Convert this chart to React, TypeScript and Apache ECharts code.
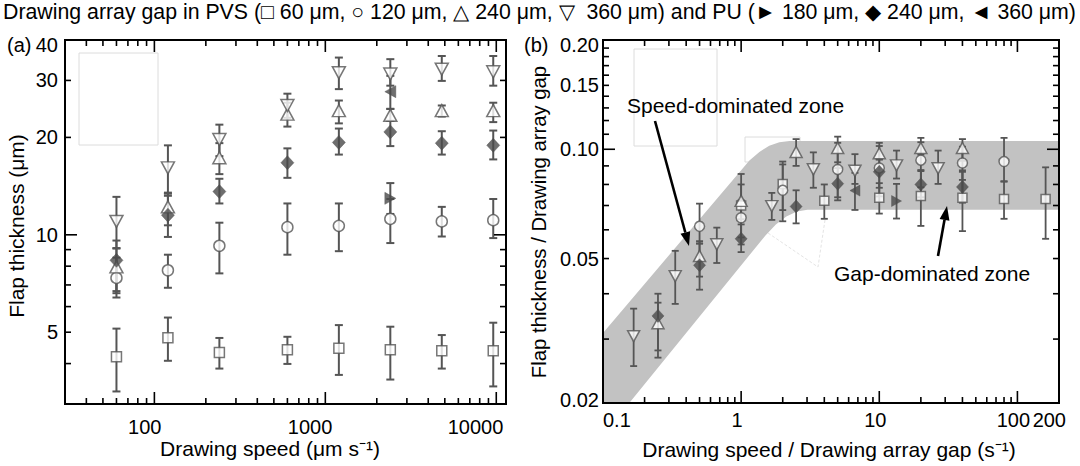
import React, { useEffect, useRef } from 'react';
import * as echarts from 'echarts';

// ---------------- data: panel (a) ----------------
const speeds = [60, 120, 240, 600, 1200, 2400, 4800, 9600];
const puSpeed = [2400];

const gap60 = 60;
const gap120 = 120;
const gap240 = 240;
const gap360 = 360;
const gap180 = 180;

const sq60 = [4.2, 4.81, 4.33, 4.41, 4.46, 4.41, 4.38, 4.38];
const sq60Lo = [3.28, 4.08, 3.86, 3.99, 3.69, 3.57, 3.86, 3.4];
const sq60Hi = [5.13, 5.55, 4.8, 4.84, 5.26, 5.2, 4.9, 5.35];

const ci120 = [7.36, 7.77, 9.25, 10.56, 10.66, 11.2, 11.0, 11.1];
const ci120Lo = [6.6, 6.86, 7.6, 8.68, 8.9, 9.43, 9.88, 9.77];
const ci120Hi = [8.5, 8.68, 10.9, 12.5, 12.5, 12.9, 12.2, 12.9];

const up240 = [7.96, 12.2, 17.3, 23.6, 24.2, 23.4, 24.2, 24.2];
const up240Lo = [6.7, 10.7, 15.4, 21.6, 22.1, 22.5, 23.2, 22.3];
const up240Hi = [9.07, 13.4, 19.2, 25.6, 26.0, 24.5, 25.1, 25.6];

const dn360 = [11.0, 16.1, 19.7, 25.1, 31.7, 31.4, 32.5, 31.9];
const dn360Lo = [9.1, 13.5, 17.5, 23.0, 28.2, 28.9, 29.9, 28.9];
const dn360Hi = [13.1, 18.9, 21.9, 27.3, 35.3, 34.9, 35.7, 35.7];

const pu240 = [8.34, 11.5, 13.6, 16.7, 19.3, 20.8, 19.2, 18.9];
const pu240Lo = [6.4, 9.85, 12.5, 15.0, 17.7, 18.8, 17.7, 17.1];
const pu240Hi = [9.6, 13.2, 14.9, 18.5, 21.3, 22.5, 20.9, 21.0];

const pu180 = [12.96];
const pu180Lo = [11.6];
const pu180Hi = [14.45];

const pu360 = [27.7];
const pu360Lo = [24.5];
const pu360Hi = [31.0];

// ---------------- band (panel b) ----------------
const bandUpperX = [0.1, 1.148, 1.355, 1.597, 1.891, 2.239, 200];
const bandUpperY = [0.0312, 0.0931, 0.0983, 0.1022, 0.1046, 0.1054, 0.1054];
const bandLowerX = [200, 3.022, 2.533, 2.124, 1.784, 1.5, 0.155, 0.1];
const bandLowerY = [0.0681, 0.0681, 0.0674, 0.0653, 0.0621, 0.0579, 0.02, 0.02];

// ---------------- axes / ticks ----------------
const aXRange = [30, 11400];
const aYRange = [3, 40];
const bXRange = [0.1, 200];
const bYRange = [0.02, 0.2];

const aXMajor = [100, 1000, 10000];
const aXMinor = [40, 50, 60, 70, 80, 90, 200, 300, 400, 500, 600, 700, 800, 900, 2000, 3000, 4000, 5000, 6000, 7000, 8000, 9000];
const aYMajor = [10];
const aYMinor = [4, 5, 6, 7, 8, 9, 20, 30];
const aXLabelValues = [100, 1000, 10000];
const aXLabels = ['100', '1000', '10000'];
const aYLabelValues = [5, 10, 20, 30, 40];
const aYLabels = ['5', '10', '20', '30', '40'];

const bXMajor = [1, 10, 100];
const bXMinor = [0.2, 0.3, 0.4, 0.5, 0.6, 0.7, 0.8, 0.9, 2, 3, 4, 5, 6, 7, 8, 9, 20, 30, 40, 50, 60, 70, 80, 90];
const bYMajor = [0.1];
const bYMinor = [0.03, 0.04, 0.05, 0.06, 0.07, 0.08, 0.09, 0.11, 0.12, 0.13, 0.14, 0.15, 0.16, 0.17, 0.18, 0.19];
const bXLabelValues = [0.1, 1, 10, 100, 200];
const bXLabels = ['0.1', '1', '10', '100', '200'];
const bYLabelValues = [0.02, 0.05, 0.1, 0.15, 0.2];
const bYLabels = ['0.02', '0.05', '0.10', '0.15', '0.20'];

const TITLE = 'Drawing array gap in PVS (\u25A1 60 \u03BCm, \u25CB 120 \u03BCm, \u25B3 240 \u03BCm, \u25BD  360 \u03BCm) and PU (\u25BA 180 \u03BCm, \u25C6 240 \u03BCm, \u25C4 360 \u03BCm)';

// ---------------- layout ----------------
const FONT = "'Liberation Sans', Arial, Helvetica, sans-serif";
const GRID_A = { left: 65, top: 40, width: 441, height: 364 };
const GRID_B = { left: 603, top: 40, width: 456, height: 363 };
const BAR = '#555555';
const FILLED = '#4a4a4a';

type Group = {
  x: number[]; y: number[]; lo: number[]; hi: number[]; gap: number;
  symbol: string; sizeA: any; sizeB: any; rotate: number; filled: boolean;
};

const groups: Group[] = [
  { x: speeds, y: sq60, lo: sq60Lo, hi: sq60Hi, gap: gap60, symbol: 'rect', sizeA: 10, sizeB: 9, rotate: 0, filled: false },
  { x: speeds, y: ci120, lo: ci120Lo, hi: ci120Hi, gap: gap120, symbol: 'circle', sizeA: 11, sizeB: 10, rotate: 0, filled: false },
  { x: speeds, y: up240, lo: up240Lo, hi: up240Hi, gap: gap240, symbol: 'triangle', sizeA: [13, 12], sizeB: [12, 11], rotate: 0, filled: false },
  { x: speeds, y: dn360, lo: dn360Lo, hi: dn360Hi, gap: gap360, symbol: 'triangle', sizeA: [13, 12], sizeB: [12, 11], rotate: 180, filled: false },
  { x: speeds, y: pu240, lo: pu240Lo, hi: pu240Hi, gap: gap240, symbol: 'diamond', sizeA: [13, 14], sizeB: [12, 13], rotate: 0, filled: true },
  { x: puSpeed, y: pu180, lo: pu180Lo, hi: pu180Hi, gap: gap180, symbol: 'triangle', sizeA: [12, 11], sizeB: [11, 10], rotate: -90, filled: true },
  { x: puSpeed, y: pu360, lo: pu360Lo, hi: pu360Hi, gap: gap360, symbol: 'triangle', sizeA: [12, 11], sizeB: [11, 10], rotate: 90, filled: true },
];

function errRender(capHalf: number, lw: number) {
  return (params: any, api: any) => {
    const x = api.value(0);
    const lo = api.coord([x, api.value(2)]);
    const hi = api.coord([x, api.value(3)]);
    const style = { stroke: BAR, lineWidth: lw };
    return {
      type: 'group',
      children: [
        { type: 'line', shape: { x1: lo[0], y1: lo[1], x2: hi[0], y2: hi[1] }, style },
        { type: 'line', shape: { x1: lo[0] - capHalf, y1: lo[1], x2: lo[0] + capHalf, y2: lo[1] }, style },
        { type: 'line', shape: { x1: hi[0] - capHalf, y1: hi[1], x2: hi[0] + capHalf, y2: hi[1] }, style },
      ],
    };
  };
}

function tickData(xMinor: number[], xMajor: number[], yMinor: number[], yMajor: number[], xr: number[], yr: number[]) {
  const d: number[][] = [];
  xMinor.forEach((v) => d.push([v, yr[0], 0, 0]));
  xMajor.forEach((v) => d.push([v, yr[0], 0, 1]));
  yMinor.forEach((v) => d.push([xr[0], v, 1, 0]));
  yMajor.forEach((v) => d.push([xr[0], v, 1, 1]));
  return d;
}

function tickRender(params: any, api: any) {
  const cs = params.coordSys;
  const kind = api.value(2);
  const major = api.value(3);
  const len = major ? 12 : 6;
  const style = { stroke: '#000', lineWidth: 1.6 };
  const p = api.coord([api.value(0), api.value(1)]);
  if (kind === 0) {
    const px = p[0];
    const b = cs.y + cs.height;
    return {
      type: 'group',
      children: [
        { type: 'line', shape: { x1: px, y1: b, x2: px, y2: b - len }, style },
        { type: 'line', shape: { x1: px, y1: cs.y, x2: px, y2: cs.y + len }, style },
      ],
    };
  }
  const py = p[1];
  const r = cs.x + cs.width;
  return {
    type: 'group',
    children: [
      { type: 'line', shape: { x1: cs.x, y1: py, x2: cs.x + len, y2: py }, style },
      { type: 'line', shape: { x1: r, y1: py, x2: r - len, y2: py }, style },
    ],
  };
}

function labelData(xVals: number[], yVals: number[], xr: number[], yr: number[]) {
  const d: number[][] = [];
  xVals.forEach((v, i) => d.push([v, yr[0], 0, i]));
  yVals.forEach((v, i) => d.push([xr[0], v, 1, i]));
  return d;
}

function labelRender(xLabels: string[], yLabels: string[], panel: 'a' | 'b') {
  return (params: any, api: any) => {
    const cs = params.coordSys;
    const kind = api.value(2);
    const i = api.value(3);
    const p = api.coord([api.value(0), api.value(1)]);
    let x = 0;
    let y = 0;
    let align = 'center';
    let text = '';
    if (kind === 0) {
      text = xLabels[i];
      if (panel === 'a') {
        x = p[0] + 7;
        align = 'right';
        y = cs.y + cs.height + 23;
      } else {
        const last = xLabels.length - 1;
        if (i === 0) { x = p[0]; align = 'left'; }
        else if (i === last) { x = p[0] + 7; align = 'right'; }
        else { x = p[0] - 4; align = 'center'; }
        y = cs.y + cs.height + 17;
      }
    } else {
      text = yLabels[i];
      x = cs.x - (panel === 'a' ? 7 : 4);
      align = 'right';
      y = Math.min(Math.max(p[1], cs.y + 5), cs.y + cs.height - 3);
    }
    return {
      type: 'text',
      x,
      y,
      style: {
        text,
        fill: '#000',
        font: `20px ${FONT}`,
        align,
        textAlign: align,
        verticalAlign: 'middle',
        textVerticalAlign: 'middle',
      },
    };
  };
}

function bandRender(params: any, api: any) {
  if (params.dataIndex !== 0) return null;
  const pts: number[][] = [];
  bandUpperX.forEach((x, i) => pts.push(api.coord([x, bandUpperY[i]])));
  bandLowerX.forEach((x, i) => pts.push(api.coord([x, bandLowerY[i]])));
  return { type: 'polygon', shape: { points: pts }, style: { fill: '#c2c2c2', stroke: 'none' } };
}

function arrow(x1: number, y1: number, x2: number, y2: number) {
  const ang = Math.atan2(y2 - y1, x2 - x1);
  const L = 14;
  const W = 5;
  const bx = x2 - L * Math.cos(ang);
  const by = y2 - L * Math.sin(ang);
  return [
    { type: 'line', z: 20, shape: { x1, y1, x2: bx, y2: by }, style: { stroke: '#000', lineWidth: 2.6 } },
    {
      type: 'polygon', z: 20,
      shape: { points: [[x2, y2], [bx + W * Math.sin(ang), by - W * Math.cos(ang)], [bx - W * Math.sin(ang), by + W * Math.cos(ang)]] },
      style: { fill: '#000' },
    },
  ];
}

function buildOption() {
  const series: any[] = [];
  // band in panel b
  series.push({
    type: 'custom', xAxisIndex: 1, yAxisIndex: 1, z: 1, silent: true, clip: true,
    data: bandUpperX.map((x, i) => [x, bandUpperY[i]]),
    renderItem: bandRender,
  });
  groups.forEach((g) => {
    const itemStyle = g.filled
      ? { color: FILLED, borderColor: FILLED, borderWidth: 0.5 }
      : { color: '#ffffff', borderColor: BAR, borderWidth: 1.5 };
    const aErr = g.x.map((x, i) => [x, g.y[i], g.lo[i], g.hi[i]]);
    const bErr = g.x.map((x, i) => [x / g.gap, g.y[i] / g.gap, g.lo[i] / g.gap, g.hi[i] / g.gap]);
    series.push({ type: 'custom', xAxisIndex: 0, yAxisIndex: 0, z: 2, clip: false, silent: true, data: aErr, renderItem: errRender(4, 2) });
    series.push({ type: 'custom', xAxisIndex: 1, yAxisIndex: 1, z: 2, clip: false, silent: true, data: bErr, renderItem: errRender(3.5, 1.8) });
    series.push({
      type: 'scatter', xAxisIndex: 0, yAxisIndex: 0, z: 3, symbol: g.symbol, symbolSize: g.sizeA, symbolRotate: g.rotate,
      itemStyle, data: g.x.map((x, i) => [x, g.y[i]]),
    });
    series.push({
      type: 'scatter', xAxisIndex: 1, yAxisIndex: 1, z: 3, symbol: g.symbol, symbolSize: g.sizeB, symbolRotate: g.rotate,
      itemStyle, data: g.x.map((x, i) => [x / g.gap, g.y[i] / g.gap]),
    });
  });
  // ticks
  series.push({ type: 'custom', xAxisIndex: 0, yAxisIndex: 0, z: 6, clip: false, silent: true,
    data: tickData(aXMinor, aXMajor, aYMinor, aYMajor, aXRange, aYRange), renderItem: tickRender });
  series.push({ type: 'custom', xAxisIndex: 1, yAxisIndex: 1, z: 6, clip: false, silent: true,
    data: tickData(bXMinor, bXMajor, bYMinor, bYMajor, bXRange, bYRange), renderItem: tickRender });
  // tick labels
  series.push({ type: 'custom', xAxisIndex: 0, yAxisIndex: 0, z: 6, clip: false, silent: true,
    data: labelData(aXLabelValues, aYLabelValues, aXRange, aYRange), renderItem: labelRender(aXLabels, aYLabels, 'a') });
  series.push({ type: 'custom', xAxisIndex: 1, yAxisIndex: 1, z: 6, clip: false, silent: true,
    data: labelData(bXLabelValues, bYLabelValues, bXRange, bYRange), renderItem: labelRender(bXLabels, bYLabels, 'b') });

  const hidden = { axisLine: { show: false }, axisTick: { show: false }, axisLabel: { show: false }, splitLine: { show: false } };
  const textStyle = (size: number) => ({ fill: '#000', font: `${size}px ${FONT}` });

  return {
    animation: false,
    backgroundColor: '#ffffff',
    title: {
      text: TITLE, left: 3, top: 1, padding: 0,
      textStyle: { fontSize: 21.3, fontWeight: 'normal', fontFamily: FONT, color: '#000' },
    },
    grid: [
      { ...GRID_A, containLabel: false },
      { ...GRID_B, containLabel: false },
    ],
    xAxis: [
      { type: 'log', logBase: 10, gridIndex: 0, min: aXRange[0], max: aXRange[1], ...hidden },
      { type: 'log', logBase: 10, gridIndex: 1, min: bXRange[0], max: bXRange[1], ...hidden },
    ],
    yAxis: [
      { type: 'log', logBase: 10, gridIndex: 0, min: aYRange[0], max: aYRange[1], ...hidden },
      { type: 'log', logBase: 10, gridIndex: 1, min: bYRange[0], max: bYRange[1], ...hidden },
    ],
    series,
    graphic: [
      // faint artefact boxes
      { type: 'rect', z: 0, shape: { x: 79, y: 53, width: 79, height: 92 }, style: { fill: 'none', stroke: '#dcdcdc', lineWidth: 1 } },
      { type: 'rect', z: 0, shape: { x: 634, y: 49, width: 83, height: 97 }, style: { fill: 'none', stroke: '#dcdcdc', lineWidth: 1 } },
      { type: 'rect', z: 0, shape: { x: 745, y: 137, width: 55, height: 25 }, style: { fill: 'none', stroke: '#dcdcdc', lineWidth: 1 } },
      { type: 'polyline', z: 0, shape: { points: [[768, 233], [818, 267], [825, 220]] }, style: { fill: 'none', stroke: '#e4e4e4', lineWidth: 1, lineDash: [3, 2] } },
      // frames
      { type: 'rect', z: 20, shape: { x: GRID_A.left, y: GRID_A.top, width: GRID_A.width, height: GRID_A.height }, style: { fill: 'none', stroke: '#000', lineWidth: 2 } },
      { type: 'rect', z: 20, shape: { x: GRID_B.left, y: GRID_B.top, width: GRID_B.width, height: GRID_B.height }, style: { fill: 'none', stroke: '#000', lineWidth: 2 } },
      // panel labels
      { type: 'text', z: 20, x: 7, y: 45, style: { ...textStyle(20), text: '(a)', align: 'left', verticalAlign: 'middle', textAlign: 'left', textVerticalAlign: 'middle' } },
      { type: 'text', z: 20, x: 524, y: 45, style: { ...textStyle(20), text: '(b)', align: 'left', verticalAlign: 'middle', textAlign: 'left', textVerticalAlign: 'middle' } },
      // axis titles
      { type: 'text', z: 20, x: 270, y: 448, style: { ...textStyle(21), text: 'Drawing speed (\u03BCm s\u207B\u00B9)', align: 'center', verticalAlign: 'middle', textAlign: 'center', textVerticalAlign: 'middle' } },
      { type: 'text', z: 20, x: 829, y: 449, style: { ...textStyle(21), text: 'Drawing speed / Drawing array gap (s\u207B\u00B9)', align: 'center', verticalAlign: 'middle', textAlign: 'center', textVerticalAlign: 'middle' } },
      { type: 'text', z: 20, x: 16, y: 226, rotation: Math.PI / 2, style: { ...textStyle(21), text: 'Flap thickness (\u03BCm)', align: 'center', verticalAlign: 'middle', textAlign: 'center', textVerticalAlign: 'middle' } },
      { type: 'text', z: 20, x: 539, y: 222, rotation: Math.PI / 2, style: { ...textStyle(20.3), text: 'Flap thickness / Drawing array gap', align: 'center', verticalAlign: 'middle', textAlign: 'center', textVerticalAlign: 'middle' } },
      // annotations
      { type: 'text', z: 20, x: 627, y: 105, style: { ...textStyle(21), text: 'Speed-dominated zone', align: 'left', verticalAlign: 'middle', textAlign: 'left', textVerticalAlign: 'middle' } },
      { type: 'text', z: 20, x: 834, y: 273, style: { ...textStyle(21), text: 'Gap-dominated zone', align: 'left', verticalAlign: 'middle', textAlign: 'left', textVerticalAlign: 'middle' } },
      ...arrow(655, 121, 689, 246),
      ...arrow(938, 256, 947, 206),
    ],
  };
}

export default function App() {
  const ref = useRef<HTMLDivElement>(null);
  useEffect(() => {
    if (!ref.current) return;
    const chart = echarts.init(ref.current, null, { renderer: 'svg' });
    chart.setOption(buildOption() as any);
    return () => chart.dispose();
  }, []);
  return (
    <div
      ref={ref}
      style={{ position: 'absolute', left: 0, top: 0, width: 1080, height: 466, background: '#fff' }}
    />
  );
}
